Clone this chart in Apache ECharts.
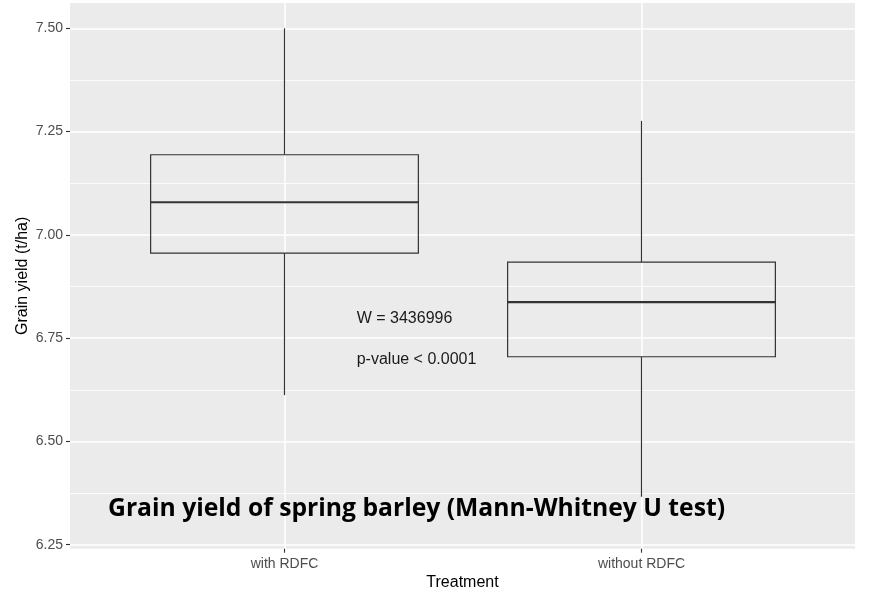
<!DOCTYPE html>
<html>
<head>
<meta charset="utf-8">
<script src="https://cdn.jsdelivr.net/npm/echarts@6/dist/echarts.min.js"></script>
<style>
html,body{margin:0;padding:0;background:#fff;}
#chart{width:872px;height:598px;}
</style>
</head>
<body>
<div id="chart"></div>
<script>
// ---- data ----
const categories = ['with RDFC', 'without RDFC'];
const whiskerLow  = [6.612, 6.366];
const lowerQuart  = [6.956, 6.705];
const medians     = [7.079, 6.837];
const upperQuart  = [7.194, 6.934];
const whiskerHigh = [7.500, 7.276];
const yTickMin = 6.25;
const yTickMax = 7.50;
const yTickStep = 0.25;
const panelMin = 6.2403;
const panelMax = 7.5613;
const annotW = 'W = 3436996';
const annotP = 'p-value < 0.0001';
const plotTitle = 'Grain yield of spring barley (Mann-Whitney U test)';
const xTitle = 'Treatment';
const yTitle = 'Grain yield (t/ha)';

const boxData = categories.map((c, i) => [i, whiskerLow[i], lowerQuart[i], medians[i], upperQuart[i], whiskerHigh[i]]);

const chart = echarts.init(document.getElementById('chart'), null, {renderer: 'canvas'});
const FONT = '"Liberation Sans", Arial, sans-serif';

function renderBox(params, api) {
  const idx = api.value(0);
  const p0 = api.coord([0, panelMin]);
  const p1 = api.coord([1, panelMin]);
  const half = 0.375 * (p1[0] - p0[0]);
  const lo = api.coord([idx, api.value(1)]);
  const q1 = api.coord([idx, api.value(2)]);
  const md = api.coord([idx, api.value(3)]);
  const q3 = api.coord([idx, api.value(4)]);
  const hi = api.coord([idx, api.value(5)]);
  const cx = lo[0];
  const st = {stroke: '#333333', lineWidth: 1.2, fill: null};
  return {
    type: 'group',
    children: [
      {type: 'line', shape: {x1: cx, y1: hi[1], x2: cx, y2: q3[1]}, style: st},
      {type: 'line', shape: {x1: cx, y1: q1[1], x2: cx, y2: lo[1]}, style: st},
      {type: 'rect', shape: {x: cx - half, y: q3[1], width: 2 * half, height: q1[1] - q3[1]}, style: st},
      {type: 'line', shape: {x1: cx - half, y1: md[1], x2: cx + half, y2: md[1]}, style: {stroke: '#333333', lineWidth: 2.2}}
    ]
  };
}

const option = {
  backgroundColor: '#ffffff',
  animation: false,
  grid: [
    {left: 70, right: 17, top: 3, bottom: 49.3, show: true, backgroundColor: '#EBEBEB', borderWidth: 0, z: 0},
    {left: 70, right: 17, top: 28.3, bottom: 53.3, z: 1},
    {left: 284.5, right: 230.5, top: 3, bottom: 49.3, z: 1}
  ],
  xAxis: [
    {gridIndex: 0, type: 'value', min: 0, max: 1, show: true,
     axisLine: {show: false}, axisTick: {show: false}, axisLabel: {show: false}, splitLine: {show: false},
     name: xTitle, nameLocation: 'middle', nameGap: 26,
     nameTextStyle: {color: '#000', fontSize: 16, fontFamily: FONT}},
    {gridIndex: 1, type: 'value', min: 0, max: 1, show: false},
    {gridIndex: 2, type: 'category', data: categories, boundaryGap: false, z: 2,
     axisLine: {show: false},
     axisTick: {show: true, length: 4, lineStyle: {color: '#333333', width: 1.1}},
     axisLabel: {color: '#4D4D4D', fontSize: 14, fontFamily: FONT, margin: 8},
     splitLine: {show: true, lineStyle: {color: '#ffffff', width: 1.5}}}
  ],
  yAxis: [
    {gridIndex: 0, type: 'value', min: 0, max: 1, show: true,
     axisLine: {show: false}, axisTick: {show: false}, axisLabel: {show: false}, splitLine: {show: false},
     name: yTitle, nameLocation: 'middle', nameGap: 39, nameRotate: 90,
     nameTextStyle: {color: '#000', fontSize: 16, fontFamily: FONT}},
    {gridIndex: 1, type: 'value', min: yTickMin, max: yTickMax, interval: yTickStep, z: 2,
     axisLine: {show: false},
     axisTick: {show: true, length: 4, lineStyle: {color: '#333333', width: 1.1}},
     axisLabel: {color: '#4D4D4D', fontSize: 14, fontFamily: FONT, margin: 7,
                 formatter: v => v.toFixed(2)},
     splitLine: {show: true, lineStyle: {color: '#ffffff', width: 1.5}},
     minorTick: {show: false, splitNumber: 2},
     minorSplitLine: {show: true, lineStyle: {color: '#ffffff', width: 0.8}}},
    {gridIndex: 2, type: 'value', min: panelMin, max: panelMax, show: false}
  ],
  series: [{
    type: 'custom',
    xAxisIndex: 2,
    yAxisIndex: 2,
    z: 5,
    renderItem: renderBox,
    encode: {x: 0, y: [1, 2, 3, 4, 5]},
    data: boxData
  }],
  graphic: [
    {type: 'text', left: 356.7, top: 311, z: 10,
     style: {text: annotW, fill: '#1a1a1a', font: '16px ' + FONT}},
    {type: 'text', left: 356.7, top: 352, z: 10,
     style: {text: annotP, fill: '#1a1a1a', font: '16px ' + FONT}},
    {type: 'text', left: 108, top: 496, z: 10,
     style: {text: plotTitle, fill: '#000', font: 'bold 24.7px "Open Sans", Lato, sans-serif'}}
  ]
};
chart.setOption(option);
</script>
</body>
</html>
